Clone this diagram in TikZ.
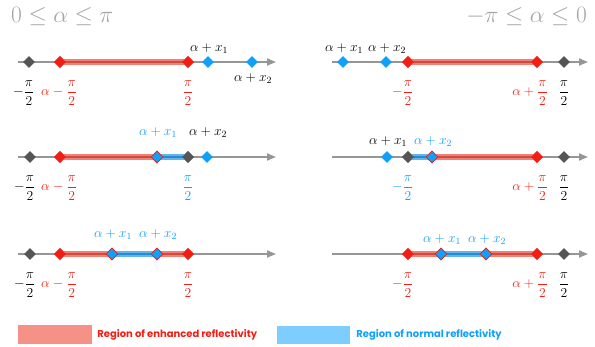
\RequirePackage{fix-cm}
\documentclass[tikz,border=0pt]{standalone}
\usepackage{amsmath}
\usepackage{fontspec}
\newfontfamily\legfont{Poppins}
\usepackage{tikz}
\usetikzlibrary{arrows.meta,positioning,shapes.geometric}
\definecolor{rfred}{RGB}{240,30,20}
\definecolor{rfblue}{RGB}{15,160,250}
\definecolor{rfgray}{RGB}{85,85,85}
\definecolor{rfaxis}{RGB}{150,150,150}
\definecolor{rfband}{RGB}{240,128,118}
\definecolor{rfbandc}{RGB}{205,75,65}
\definecolor{rfnorm}{RGB}{100,180,232}
\definecolor{rfnormc}{RGB}{35,140,210}
\definecolor{rflegr}{RGB}{245,145,135}
\definecolor{rflegb}{RGB}{125,205,255}
\definecolor{rftitle}{RGB}{165,165,165}

\begin{document}
\begin{tikzpicture}[x=1pt,y=-1pt,
  axisline/.style={rfaxis,line width=1.8pt,-{Triangle[length=9pt,width=7pt]}},
  redband/.style={rfband,line width=6pt},
  redcore/.style={rfbandc,line width=1.2pt},
  blueband/.style={rfnorm,line width=6pt},
  bluecore/.style={rfnormc,line width=1.2pt},
  pt/.style={diamond,minimum width=12pt,minimum height=12pt,inner sep=0pt},
  graypt/.style={pt,fill=rfgray},
  redpt/.style={pt,fill=rfred},
  bluept/.style={pt,fill=rfblue},
  bothpt/.style={pt,fill=rfblue,draw=rfred,line width=0.8pt},
  lab/.style={font=\fontsize{13.6}{16}\selectfont,inner sep=0pt},
  title/.style={font=\fontsize{23.5}{28}\selectfont,text=rftitle,inner sep=0pt},
  legtext/.style={font=\legfont\bfseries\fontsize{10}{12}\selectfont,inner sep=0pt}]
  \useasboundingbox (0,0) rectangle (595,347);

  % titles
  \node[title,anchor=west] (tl) at (11,17) {$0\le\alpha\le\pi$};
  \node[title,anchor=east] (tr) at (587,17) {$-\pi\le\alpha\le0$};

  % left, row 1
  \coordinate (sa) at (18,62); \coordinate (ea) at (276,62);
  \draw[axisline] (sa) -- (ea);
  \node[graypt] (a1) at (29,62) {};
  \node[redpt] (a2) at (60,62) {};
  \node[redpt] (a3) at (188,62) {};
  \node[bluept] (a4) at (208,62) {};
  \node[bluept] (a5) at (252,62) {};
  \draw[redband] (a2.center) -- (a3.center);
  \draw[redcore] (a2.center) -- (a3.center);
  \node[redpt] at (a2) {}; \node[redpt] at (a3) {};
  \node[lab] (la4) at (209,49) {$\alpha+x_1$};
  \node[lab] (la5) at (253,79) {$\alpha+x_2$};
  \node[lab] (la1) at (29,93) {\llap{$-$}$\dfrac{\pi}{2}$};
  \node[lab,text=rfred] (la2) at (59,93) {$\alpha-\dfrac{\pi}{2}$};
  \node[lab,text=rfred] (la3) at (188,93) {$\dfrac{\pi}{2}$};

  % right, row 1
  \coordinate (sb) at (332,62); \coordinate (eb) at (588,62);
  \draw[axisline] (sb) -- (eb);
  \node[bluept] (b1) at (343,62) {};
  \node[bluept] (b2) at (386,62) {};
  \node[redpt] (b3) at (408,62) {};
  \node[redpt] (b4) at (537,62) {};
  \node[graypt] (b5) at (564,62) {};
  \draw[redband] (b3.center) -- (b4.center);
  \draw[redcore] (b3.center) -- (b4.center);
  \node[redpt] at (b3) {}; \node[redpt] at (b4) {};
  \node[lab] (lb1) at (344,49) {$\alpha+x_1$};
  \node[lab] (lb2) at (387,49) {$\alpha+x_2$};
  \node[lab,text=rfred] (lb3) at (408,93) {\llap{$-$}$\dfrac{\pi}{2}$};
  \node[lab,text=rfred] (lb4) at (530,93) {$\alpha+\dfrac{\pi}{2}$};
  \node[lab] (lb5) at (564,93) {$\dfrac{\pi}{2}$};

  % left, row 2
  \coordinate (sc) at (18,157); \coordinate (ec) at (276,157);
  \draw[axisline] (sc) -- (ec);
  \node[graypt] (c1) at (30,157) {};
  \node[redpt] (c2) at (60,157) {};
  \node[bothpt] (c3) at (157,157) {};
  \node[graypt] (c4) at (188,157) {};
  \node[bluept] (c5) at (207,157) {};
  \draw[redband] (c2.center) -- (c3.center);
  \draw[redcore] (c2.center) -- (c3.center);
  \draw[blueband] (c3.center) -- (c4.center);
  \draw[bluecore] (c3.center) -- (c4.center);
  \node[redpt] at (c2) {}; \node[bothpt] at (c3) {}; \node[graypt] at (c4) {};
  \node[lab,text=rfblue] (lc3) at (158,133) {$\alpha+x_1$};
  \node[lab] (lc5) at (208,133) {$\alpha+x_2$};
  \node[lab] (lc1) at (30,188) {\llap{$-$}$\dfrac{\pi}{2}$};
  \node[lab,text=rfred] (lc2) at (59,188) {$\alpha-\dfrac{\pi}{2}$};
  \node[lab,text=rfblue] (lc4) at (188,188) {$\dfrac{\pi}{2}$};

  % right, row 2
  \coordinate (sd) at (332,157); \coordinate (ed) at (588,157);
  \draw[axisline] (sd) -- (ed);
  \node[bluept] (d1) at (387,157) {};
  \node[graypt] (d2) at (408,157) {};
  \node[bothpt] (d3) at (432,157) {};
  \node[redpt] (d4) at (537,157) {};
  \node[graypt] (d5) at (564,157) {};
  \draw[blueband] (d2.center) -- (d3.center);
  \draw[bluecore] (d2.center) -- (d3.center);
  \draw[redband] (d3.center) -- (d4.center);
  \draw[redcore] (d3.center) -- (d4.center);
  \node[graypt] at (d2) {}; \node[bothpt] at (d3) {}; \node[redpt] at (d4) {};
  \node[lab] (ld1) at (388,142) {$\alpha+x_1$};
  \node[lab,text=rfblue] (ld3) at (433,142) {$\alpha+x_2$};
  \node[lab,text=rfblue] (ld2) at (408,188) {\llap{$-$}$\dfrac{\pi}{2}$};
  \node[lab,text=rfred] (ld4) at (530,188) {$\alpha+\dfrac{\pi}{2}$};
  \node[lab] (ld5) at (564,188) {$\dfrac{\pi}{2}$};

  % left, row 3
  \coordinate (se) at (18,254); \coordinate (ee) at (276,254);
  \draw[axisline] (se) -- (ee);
  \node[graypt] (e1) at (30,254) {};
  \node[redpt] (e2) at (60,254) {};
  \node[bothpt] (e3) at (112,254) {};
  \node[bothpt] (e4) at (157,254) {};
  \node[redpt] (e5) at (188,254) {};
  \draw[redband] (e2.center) -- (e3.center);
  \draw[redcore] (e2.center) -- (e3.center);
  \draw[blueband] (e3.center) -- (e4.center);
  \draw[bluecore] (e3.center) -- (e4.center);
  \draw[redband] (e4.center) -- (e5.center);
  \draw[redcore] (e4.center) -- (e5.center);
  \node[redpt] at (e2) {}; \node[bothpt] at (e3) {};
  \node[bothpt] at (e4) {}; \node[redpt] at (e5) {};
  \node[lab,text=rfblue] (le3) at (113,235) {$\alpha+x_1$};
  \node[lab,text=rfblue] (le4) at (158,235) {$\alpha+x_2$};
  \node[lab] (le1) at (30,285) {\llap{$-$}$\dfrac{\pi}{2}$};
  \node[lab,text=rfred] (le2) at (59,285) {$\alpha-\dfrac{\pi}{2}$};
  \node[lab,text=rfred] (le5) at (188,285) {$\dfrac{\pi}{2}$};

  % right, row 3
  \coordinate (sf) at (332,254); \coordinate (ef) at (588,254);
  \draw[axisline] (sf) -- (ef);
  \node[redpt] (f1) at (408,254) {};
  \node[bothpt] (f2) at (441,254) {};
  \node[bothpt] (f3) at (486,254) {};
  \node[redpt] (f4) at (537,254) {};
  \node[graypt] (f5) at (564,254) {};
  \draw[redband] (f1.center) -- (f2.center);
  \draw[redcore] (f1.center) -- (f2.center);
  \draw[blueband] (f2.center) -- (f3.center);
  \draw[bluecore] (f2.center) -- (f3.center);
  \draw[redband] (f3.center) -- (f4.center);
  \draw[redcore] (f3.center) -- (f4.center);
  \node[redpt] at (f1) {}; \node[bothpt] at (f2) {};
  \node[bothpt] at (f3) {}; \node[redpt] at (f4) {};
  \node[lab,text=rfblue] (lf2) at (442,240) {$\alpha+x_1$};
  \node[lab,text=rfblue] (lf3) at (487,240) {$\alpha+x_2$};
  \node[lab,text=rfred] (lf1) at (408,285) {\llap{$-$}$\dfrac{\pi}{2}$};
  \node[lab,text=rfred] (lf4) at (530,285) {$\alpha+\dfrac{\pi}{2}$};
  \node[lab] (lf5) at (564,285) {$\dfrac{\pi}{2}$};

  % legend
  \node[fill=rflegr,minimum width=74pt,minimum height=19pt,inner sep=0pt] (kred) at (55,334.5) {};
  \node[legtext,text=rfred,right=5pt of kred] (tred) {Region of enhanced reflectivity};
  \node[fill=rflegb,minimum width=73pt,minimum height=18pt,inner sep=0pt] (kblue) at (313.5,335) {};
  \node[legtext,text=rfblue,right=6pt of kblue] (tblue) {Region of normal reflectivity};
\end{tikzpicture}
\end{document}
